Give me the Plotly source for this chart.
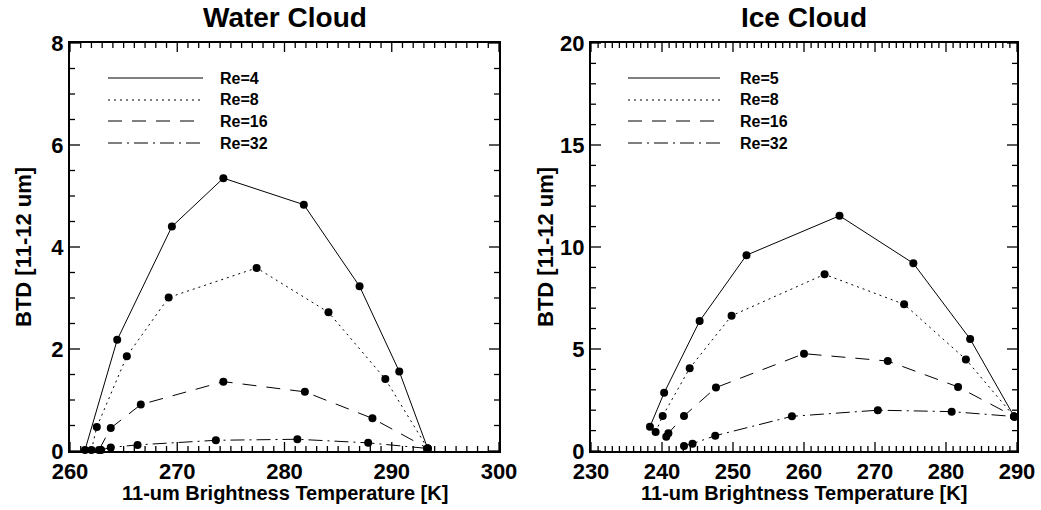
import numpy as np
import plotly.graph_objects as go

# ---------------- data ----------------
water_labels = ["Re=4", "Re=8", "Re=16", "Re=32"]
water_x = [
    [261.4, 264.4, 269.5, 274.3, 281.8, 287.0, 290.7, 293.35],
    [262.0, 262.5, 265.3, 269.2, 277.4, 284.1, 289.4, 293.35],
    [262.7, 263.8, 266.6, 274.3, 281.9, 288.2, 293.35],
    [262.9, 263.8, 266.3, 273.6, 281.2, 287.8, 293.35],
]
water_y = [
    [0.02, 2.18, 4.40, 5.35, 4.83, 3.23, 1.56, 0.05],
    [0.02, 0.47, 1.86, 3.01, 3.59, 2.72, 1.41, 0.05],
    [0.02, 0.45, 0.91, 1.36, 1.16, 0.64, 0.05],
    [0.02, 0.07, 0.12, 0.21, 0.23, 0.16, 0.05],
]

ice_labels = ["Re=5", "Re=8", "Re=16", "Re=32"]
ice_x = [
    [238.3, 240.3, 245.3, 251.9, 265.0, 275.4, 283.4, 289.6],
    [239.1, 240.1, 243.9, 249.8, 262.9, 274.1, 282.8, 289.6],
    [240.6, 240.9, 243.1, 247.6, 260.0, 271.8, 281.7, 289.6],
    [243.1, 244.3, 247.5, 258.3, 270.4, 280.8, 289.6],
]
ice_y = [
    [1.19, 2.85, 6.37, 9.60, 11.53, 9.20, 5.49, 1.69],
    [0.93, 1.72, 4.06, 6.63, 8.66, 7.19, 4.49, 1.69],
    [0.70, 0.87, 1.72, 3.11, 4.77, 4.41, 3.14, 1.69],
    [0.25, 0.36, 0.75, 1.70, 2.00, 1.93, 1.69],
]

water_xrange, water_yrange = [260, 300], [0, 8]
ice_xrange, ice_yrange = [230, 290], [0, 20]

dashes = ["solid", "2px,4px", "14px,10px", "14px,5px,2px,5px"]

FONT = "Liberation Sans"
W, H = 1041, 510

# pixel geometry of the two plot boxes
L1, R1 = 70, 499
L2, R2 = 591, 1017
TOP, BOT = 43, 451


def px(x):
    return x / W


def py(y):
    return 1 - y / H


fig = go.Figure()

for i in range(4):
    fig.add_trace(go.Scatter(
        x=water_x[i], y=water_y[i], mode="lines+markers", xaxis="x", yaxis="y",
        line=dict(color="black", width=1, dash=dashes[i]),
        marker=dict(color="black", size=8), showlegend=False, cliponaxis=False))
    fig.add_trace(go.Scatter(
        x=ice_x[i], y=ice_y[i], mode="lines+markers", xaxis="x2", yaxis="y2",
        line=dict(color="black", width=1, dash=dashes[i]),
        marker=dict(color="black", size=8), showlegend=False, cliponaxis=False))

tickfont = dict(family=FONT, size=22, color="black", weight="bold")

layout = dict(
    template="none",
    width=W, height=H, margin=dict(l=0, r=0, t=0, b=0, autoexpand=False),
    paper_bgcolor="white", plot_bgcolor="white", showlegend=False,
)

panels = [
    ("x", "y", (L1, R1), water_xrange, water_yrange, 10, 1, 2, 0.5),
    ("x2", "y2", (L2, R2), ice_xrange, ice_yrange, 10, 1, 5, 1),
]

for (xid, yid, (l, r), xr, yr, xdt, xmdt, ydt, ymdt) in panels:
    layout["xaxis" + xid[1:]] = dict(
        domain=[px(l), px(r)], range=xr, dtick=xdt, tick0=xr[0], anchor=yid,
        ticks="", showline=True, linewidth=2, linecolor="black", mirror=True,
        showgrid=False, zeroline=False, tickfont=tickfont, automargin=False)
    layout["yaxis" + yid[1:]] = dict(
        domain=[py(BOT), py(TOP)], range=yr, dtick=ydt, tick0=0, anchor=xid,
        ticks="", showline=True, linewidth=2, linecolor="black", mirror=True,
        showgrid=False, zeroline=False, tickfont=tickfont, automargin=False)

    # tick marks drawn as one line trace, lengths converted from pixels
    box_w = r - l
    box_h = BOT - TOP
    ux = (xr[1] - xr[0]) / box_w   # data units per pixel along x
    uy = (yr[1] - yr[0]) / box_h   # data units per pixel along y
    tx, ty = [], []
    for t in np.arange(xr[0], xr[1] + 1e-9, xmdt):
        major = abs((t - xr[0]) / xdt - round((t - xr[0]) / xdt)) < 1e-6
        ln = (9 if major else 5) * uy
        tx += [t, t, None, t, t, None]
        ty += [yr[0], yr[0] + ln, None, yr[1], yr[1] - ln, None]
    for t in np.arange(yr[0], yr[1] + 1e-9, ymdt):
        major = abs(t / ydt - round(t / ydt)) < 1e-6
        ln = (10 if major else 5) * ux
        tx += [xr[0], xr[0] + ln, None, xr[1], xr[1] - ln, None]
        ty += [t, t, None, t, t, None]
    fig.add_trace(go.Scatter(x=tx, y=ty, mode="lines", xaxis=xid, yaxis=yid,
                             line=dict(color="black", width=1.3),
                             hoverinfo="skip", showlegend=False,
                             connectgaps=False, cliponaxis=False))

fig.update_layout(**layout)

ann = []
shapes = []
titlefont = dict(family=FONT, size=28, color="black", weight="bold")
labfont = dict(family=FONT, size=20, color="black", weight="bold")
ylabfont = dict(family=FONT, size=22, color="black", weight="bold")
legfont = dict(family=FONT, size=16, color="black", weight="bold")

for (l, r, title) in [(L1, R1, "Water Cloud"), (L2, R2, "Ice Cloud")]:
    ann.append(dict(text=title, x=px((l + r) / 2), y=py(18), xref="paper", yref="paper",
                    showarrow=False, font=titlefont, xanchor="center", yanchor="middle"))
    ann.append(dict(text="11-um Brightness Temperature [K]", x=px((l + r) / 2), y=py(493),
                    xref="paper", yref="paper", showarrow=False, font=labfont,
                    xanchor="center", yanchor="middle"))

for xc in (23, 545):
    ann.append(dict(text="BTD [11-12 um]", x=px(xc), y=py((TOP + BOT) / 2), xref="paper",
                    yref="paper", showarrow=False, font=ylabfont, textangle=-90,
                    xanchor="center", yanchor="middle"))

leg_rows = [78, 100, 121, 143]
for (x0, x1, xt, labels) in [(108, 203, 218, water_labels), (628, 720, 738, ice_labels)]:
    for i, yy in enumerate(leg_rows):
        shapes.append(dict(type="line", xref="paper", yref="paper",
                           x0=px(x0), x1=px(x1), y0=py(yy), y1=py(yy),
                           line=dict(color="black", width=1, dash=dashes[i])))
        ann.append(dict(text=labels[i], x=px(xt), y=py(yy), xref="paper", yref="paper",
                        showarrow=False, font=legfont, xanchor="left", yanchor="middle"))

fig.update_layout(annotations=ann, shapes=shapes)

fig.write_html("out.html")
